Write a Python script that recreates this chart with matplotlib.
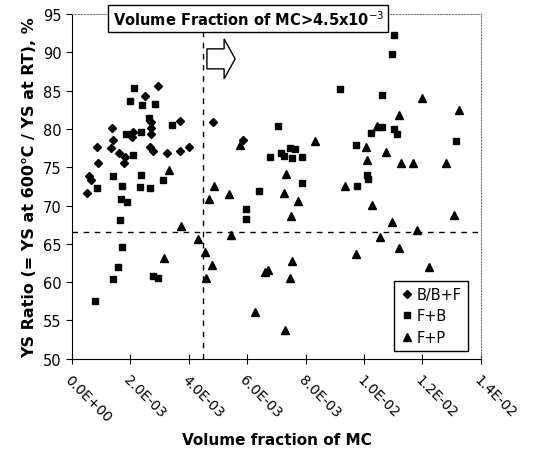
import numpy as np
import matplotlib
matplotlib.use('Agg')
import matplotlib.pyplot as plt
from matplotlib.ticker import FuncFormatter, MultipleLocator
from matplotlib.patches import FancyArrow

# volume fraction of MC (x 1e-3) and YS ratio (%)
bbf_x = [2.94, 2.51, 3.69, 1.36, 2.70, 2.72, 2.72, 2.10, 2.05, 1.41, 0.84, 1.33, 1.60,
         1.81, 1.79, 2.67, 2.76, 3.26, 3.69, 4.01, 0.90, 0.59, 0.64, 0.52, 4.83, 5.85]
bbf_y = [85.6, 84.3, 81.0, 80.1, 80.9, 80.1, 79.3, 79.6, 78.9, 78.5, 77.6, 77.5, 76.8,
         76.4, 75.6, 77.7, 77.1, 76.9, 77.1, 77.6, 75.6, 73.9, 73.3, 71.6, 80.9, 78.6]

fb_x = [2.12, 2.00, 2.39, 2.84, 2.63, 3.42, 1.85, 2.36, 2.10, 1.41, 2.36, 3.10, 0.84,
        1.71, 2.32, 2.67, 1.66, 1.89, 1.64, 1.72, 1.58, 1.41, 2.78, 2.95, 0.79, 6.40,
        7.87, 5.97, 5.97, 9.75, 10.09, 10.15, 7.05, 9.18, 6.77, 7.15, 7.25, 7.45, 7.62,
        7.55, 7.86, 11.04, 10.96, 10.63, 10.62, 10.25, 11.04, 11.12, 9.73, 13.15]
fb_y = [85.3, 83.6, 83.1, 83.2, 81.4, 80.5, 79.4, 79.6, 76.6, 73.8, 74.0, 73.3, 72.3,
        72.6, 72.4, 72.3, 70.9, 70.5, 68.1, 64.6, 62.0, 60.4, 60.8, 60.6, 57.5, 71.9,
        72.9, 69.6, 68.3, 72.6, 74.0, 73.5, 80.4, 85.2, 76.4, 76.9, 76.5, 77.5, 77.4,
        76.2, 76.4, 92.2, 89.8, 84.4, 80.3, 79.5, 80.0, 79.3, 77.9, 78.4]

fp_x = [3.73, 4.32, 3.15, 4.55, 4.81, 4.58, 4.86, 4.68, 5.39, 7.26, 7.73, 7.49, 5.43,
        6.62, 6.71, 7.55, 7.45, 6.27, 7.28, 9.36, 10.28, 10.95, 13.07, 11.81, 10.55,
        11.21, 9.73, 12.22, 5.74, 8.31, 7.34, 12.00, 13.24, 11.21, 10.46, 10.08, 10.74,
        10.11, 11.27, 11.68, 12.80, 3.33]
fp_y = [67.3, 65.6, 63.2, 63.9, 62.2, 60.6, 72.5, 70.9, 71.5, 71.6, 70.6, 68.7, 66.2,
        61.3, 61.6, 62.7, 60.5, 56.1, 53.8, 72.6, 70.1, 67.9, 68.8, 66.8, 65.9,
        64.4, 63.7, 62.0, 77.9, 78.4, 74.1, 84.0, 82.5, 81.8, 80.4, 77.7, 77.0,
        76.0, 75.6, 75.6, 75.6, 74.7]

vf_limit = 4.5e-3
ratio_line = 66.6

fig = plt.figure(figsize=(5.42, 4.56), dpi=100)
ax = fig.add_axes([0.133, 0.211, 0.754, 0.756])

ax.plot(np.array(bbf_x) * 1e-3, bbf_y, 'D', color='black', ms=4.0, label='B/B+F')
ax.plot(np.array(fb_x) * 1e-3, fb_y, 's', color='black', ms=4.2, label='F+B')
ax.plot(np.array(fp_x) * 1e-3, fp_y, '^', color='black', ms=5.8, label='F+P')

ax.axvline(vf_limit, color='black', ls=(0, (4, 4)), lw=1)
ax.axhline(ratio_line, color='black', ls=(0, (4, 4)), lw=1)

ax.set_xlim(0, 0.014)
ax.set_ylim(50, 95)
ax.xaxis.set_major_locator(MultipleLocator(0.002))
ax.yaxis.set_major_locator(MultipleLocator(5))
ax.xaxis.set_major_formatter(FuncFormatter(lambda v, p: '%.1E' % v))

for lbl in ax.get_xticklabels():
  lbl.set_rotation(-45)
  lbl.set_ha('left')
  lbl.set_rotation_mode('anchor')

ax.tick_params(axis='x', direction='inout', length=7, labelsize=10, pad=6)
ax.tick_params(axis='y', direction='out', length=4, labelsize=10.5)

ax.spines['top'].set_linestyle(':')
ax.spines['right'].set_linestyle(':')
ax.spines['top'].set_color('#777777')
ax.spines['right'].set_color('#777777')

ax.set_xlabel('Volume fraction of MC', fontweight='bold', fontsize=11, labelpad=6)
ax.set_ylabel('YS Ratio (= YS at 600\u2103 / YS at RT), %', fontweight='bold', fontsize=11.5)

leg = ax.legend(loc='lower right', bbox_to_anchor=(0.968, 0.023), borderaxespad=0,
                fancybox=False, edgecolor='black', framealpha=1, fontsize=10.5,
                handletextpad=0.2, handlelength=1.0, borderpad=0.4, labelspacing=0.45)
leg.get_frame().set_linewidth(1.0)

# hollow arrow pointing to the right of the limit
ax.add_patch(FancyArrow(0.330, 0.870, 0.069, 0, width=0.058, head_width=0.116,
                        head_length=0.027, length_includes_head=True,
                        transform=ax.transAxes, fc='white', ec='black', lw=1,
                        clip_on=False, zorder=5))

fig.text(0.458, 0.957, 'Volume Fraction of MC>4.5x10$^{-3}$', ha='center', va='center',
         fontsize=10.5, fontweight='bold',
         bbox=dict(boxstyle='square,pad=0.3', fc='white', ec='black', lw=1))

plt.savefig('out.png', dpi=100)
